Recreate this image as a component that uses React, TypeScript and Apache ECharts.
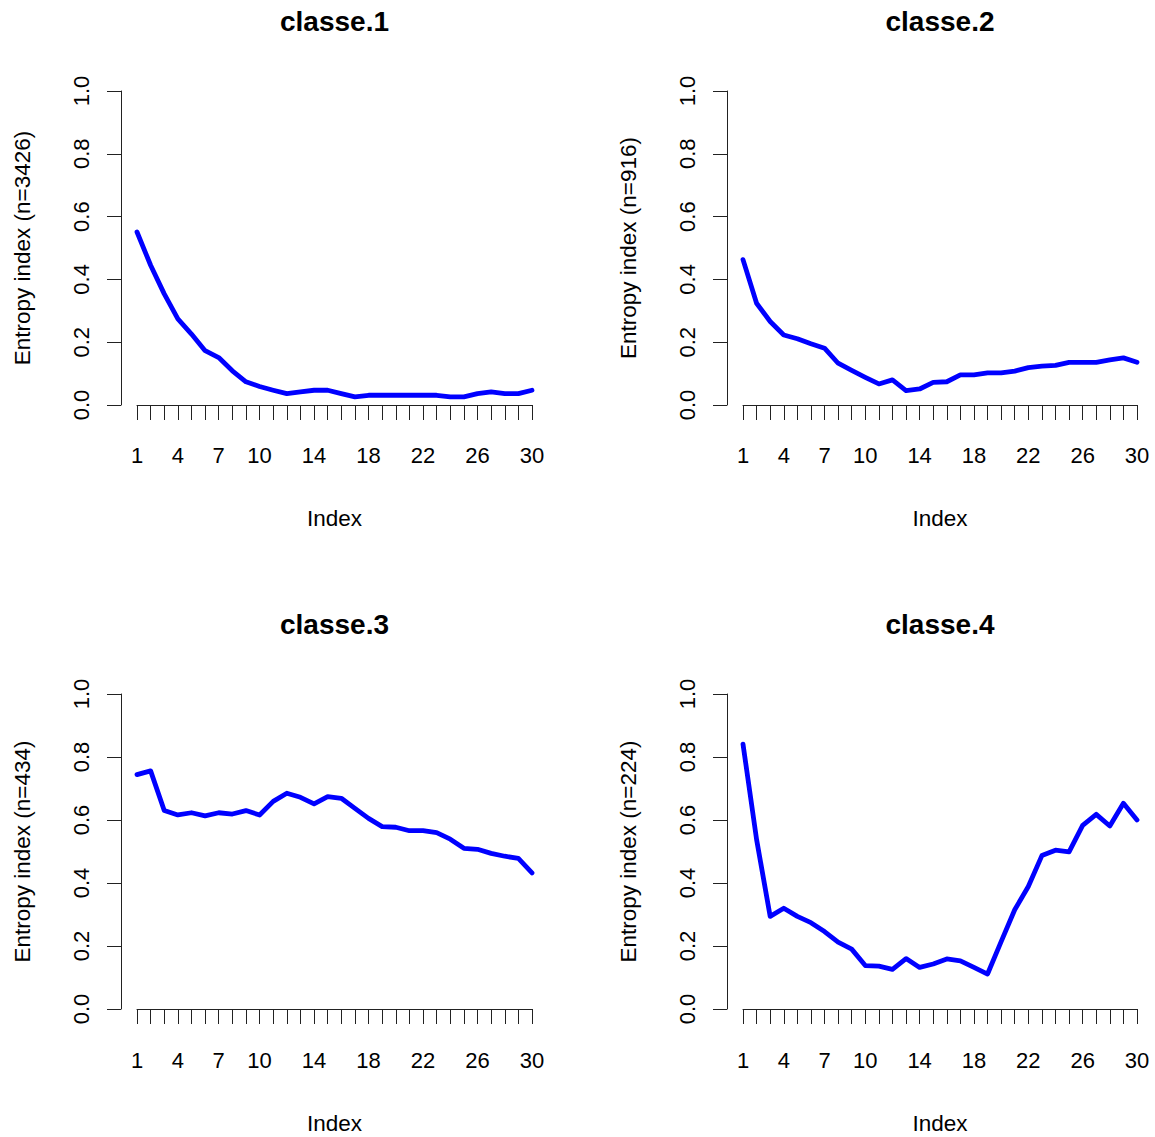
import React, { useEffect, useRef } from "react";
import * as echarts from "echarts";

const indexValues = [1, 2, 3, 4, 5, 6, 7, 8, 9, 10, 11, 12, 13, 14, 15, 16, 17, 18, 19, 20, 21, 22, 23, 24, 25, 26, 27, 28, 29, 30];
const xTickLabels = [1, 4, 7, 10, 14, 18, 22, 26, 30];
const panelTitles = ["classe.1", "classe.2", "classe.3", "classe.4"];
const sampleSizes = [3426, 916, 434, 224];

const classe1 = [0.551, 0.445, 0.354, 0.274, 0.226, 0.173, 0.151, 0.109, 0.074, 0.059, 0.047, 0.036, 0.042, 0.047, 0.047, 0.036, 0.026, 0.031, 0.031, 0.031, 0.031, 0.031, 0.031, 0.026, 0.026, 0.036, 0.042, 0.036, 0.036, 0.047];
const classe2 = [0.463, 0.324, 0.266, 0.223, 0.211, 0.195, 0.181, 0.133, 0.11, 0.088, 0.067, 0.08, 0.046, 0.051, 0.072, 0.074, 0.096, 0.096, 0.102, 0.102, 0.108, 0.119, 0.124, 0.126, 0.136, 0.136, 0.136, 0.144, 0.15, 0.136];
const classe3 = [0.744, 0.756, 0.63, 0.616, 0.623, 0.613, 0.623, 0.619, 0.63, 0.616, 0.659, 0.685, 0.672, 0.651, 0.674, 0.669, 0.637, 0.605, 0.579, 0.577, 0.566, 0.566, 0.56, 0.539, 0.51, 0.507, 0.494, 0.485, 0.478, 0.432];
const classe4 = [0.841, 0.538, 0.294, 0.32, 0.294, 0.274, 0.246, 0.212, 0.19, 0.138, 0.136, 0.126, 0.16, 0.132, 0.143, 0.159, 0.153, 0.132, 0.111, 0.214, 0.315, 0.389, 0.487, 0.504, 0.499, 0.583, 0.618, 0.581, 0.653, 0.6];
const seriesValues = [classe1, classe2, classe3, classe4];

const FONT = "Liberation Sans, Arial, sans-serif";

const panels = [
  { left: 137, top: 91, width: 395, height: 314, axisLeft: 121, xOff: 6 },
  { left: 743, top: 91, width: 394, height: 314, axisLeft: 727, xOff: 6 },
  { left: 137, top: 694, width: 395, height: 315, axisLeft: 121, xOff: 7 },
  { left: 743, top: 694, width: 394, height: 315, axisLeft: 727, xOff: 7 },
];

export default function App() {
  const ref = useRef<HTMLDivElement>(null);
  useEffect(() => {
    if (!ref.current) return;
    const chart = echarts.init(ref.current, undefined, { renderer: "svg" });
    const axisColor = "#222";
    const grids = panels.map((p) => ({ left: p.left, top: p.top, width: p.width, height: p.height }));
    const xAxes = panels.map((p, i) => ({
      type: "value",
      gridIndex: i,
      min: 1,
      max: 30,
      interval: 1,
      offset: p.xOff,
      name: "Index",
      nameLocation: "middle",
      nameGap: 96,
      nameTextStyle: { fontSize: 22.5, fontFamily: FONT, color: "#000" },
      axisLine: { show: true, lineStyle: { color: axisColor, width: 1 } },
      axisTick: { show: true, length: 15, lineStyle: { color: axisColor, width: 1 } },
      axisLabel: {
        margin: 33,
        fontSize: 22,
        fontFamily: FONT,
        color: "#000",
        formatter: (v: number) => (xTickLabels.indexOf(v) >= 0 ? String(v) : ""),
      },
      splitLine: { show: false },
    }));
    const yAxes = panels.map((p, i) => ({
      type: "value",
      gridIndex: i,
      min: 0,
      max: 1,
      interval: 0.2,
      offset: p.left - p.axisLeft,
      name: "Entropy index (n=" + sampleSizes[i] + ")",
      nameLocation: "middle",
      nameGap: 87,
      nameTextStyle: { fontSize: 22.5, fontFamily: FONT, color: "#000" },
      axisLine: { show: true, lineStyle: { color: axisColor, width: 1 } },
      axisTick: { show: true, length: 14, lineStyle: { color: axisColor, width: 1 } },
      axisLabel: {
        rotate: 90,
        margin: 29,
        fontSize: 22,
        fontFamily: FONT,
        color: "#000",
        formatter: (v: number) => v.toFixed(1),
      },
      splitLine: { show: false },
    }));
    const series = seriesValues.map((vals, i) => ({
      type: "line",
      xAxisIndex: i,
      yAxisIndex: i,
      data: indexValues.map((x, k) => [x, vals[k]]),
      showSymbol: false,
      symbol: "none",
      lineStyle: { color: "#0000FF", width: 4.8, cap: "round", join: "round" },
    }));
    const graphics = panels.map((p, i) => ({
      type: "text",
      x: (p.axisLeft + (p.left + p.width + (p.left - p.axisLeft))) / 2,
      y: p.top - 70,
      style: {
        text: panelTitles[i],
        fontSize: 28,
        fontWeight: "bold",
        fontFamily: FONT,
        fill: "#000",
        align: "center",
        verticalAlign: "middle",
      },
    }));
    chart.setOption({
      animation: false,
      backgroundColor: "#fff",
      grid: grids,
      xAxis: xAxes,
      yAxis: yAxes,
      series,
      graphic: graphics,
    });
    return () => chart.dispose();
  }, []);
  return <div ref={ref} style={{ position: "absolute", left: 0, top: 0, width: 1155, height: 1137 }} />;
}
